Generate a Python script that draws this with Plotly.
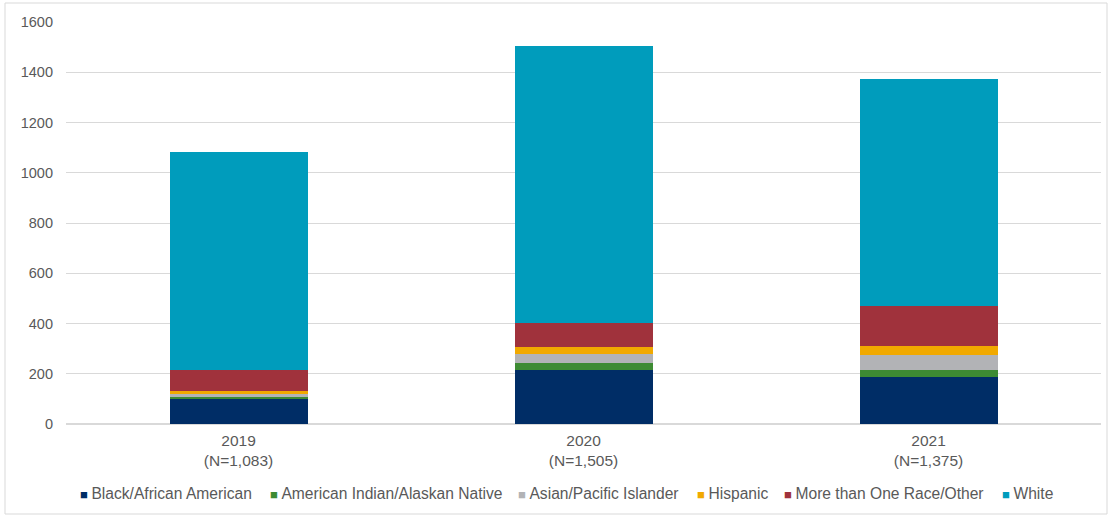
import plotly.graph_objects as go

years = ["2019<br>(N=1,083)", "2020<br>(N=1,505)", "2021<br>(N=1,375)"]

black = [100, 213, 189]
native = [6, 29, 26]
asian = [15, 37, 58]
hispanic = [12, 29, 37]
multi = [80, 94, 160]
white = [870, 1103, 905]

series = [
    ("Black/African American", black, "#002D66"),
    ("American Indian/Alaskan Native", native, "#3D8B33"),
    ("Asian/Pacific Islander", asian, "#B2B3B6"),
    ("Hispanic", hispanic, "#F1A900"),
    ("More than One Race/Other", multi, "#A0323C"),
    ("White", white, "#009CBC"),
]

# left pixel position of each legend swatch
legend_x_px = [78, 268, 516, 695, 782, 1000]

L, R, T, B = 66, 9, 22, 93
W, H = 1110, 517
plot_w = W - L - R
plot_h = H - T - B

fig = go.Figure()
for name, vals, color in series:
    fig.add_trace(go.Bar(x=years, y=vals, name=name, marker_color=color,
                         marker_line_width=0, showlegend=False))

annotations = []
for (name, _, color), px in zip(series, legend_x_px):
    annotations.append(dict(
        xref="paper", yref="paper",
        x=(px - L) / plot_w, y=-(493 - (H - B)) / plot_h,
        xanchor="left", yanchor="middle", showarrow=False,
        text=f'<span style="color:{color};font-size:13px">■ </span>{name}',
        font=dict(size=15.6, color="#595959"),
    ))

fig.update_layout(
    width=W, height=H,
    barmode="stack", bargap=0.6,
    paper_bgcolor="white", plot_bgcolor="white",
    margin=dict(l=L, r=R, t=T, b=B),
    font=dict(family="Liberation Sans, Arial, sans-serif", size=14, color="#595959"),
    xaxis=dict(showgrid=False, showline=False, ticks="", automargin=False,
               tickfont=dict(size=15.5), ticklabelstandoff=5),
    yaxis=dict(range=[0, 1600], dtick=200, showgrid=True, gridcolor="#D9D9D9",
               gridwidth=1, zeroline=True, zerolinecolor="#D9D9D9", ticks="",
               automargin=False, tickfont=dict(size=14.5), ticklabelstandoff=12),
    annotations=annotations,
    shapes=[dict(type="rect", xref="paper", yref="paper",
                 x0=(5 - L) / plot_w, x1=(1107 - L) / plot_w,
                 y0=-(514 - (H - B)) / plot_h, y1=1 + (T - 3) / plot_h,
                 line=dict(color="#D9D9D9", width=1), layer="below")],
)

fig.write_html("out.html")
